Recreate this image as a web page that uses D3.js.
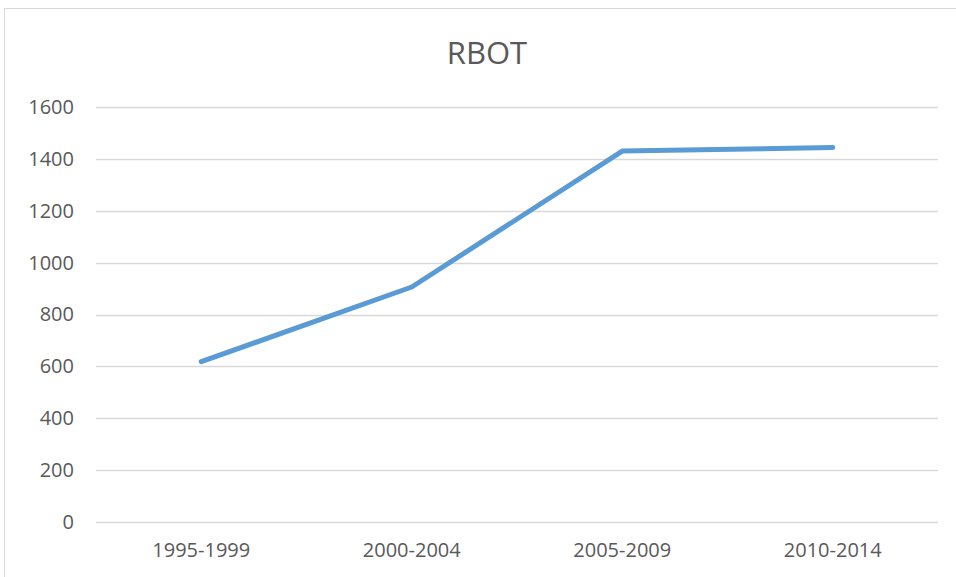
<!DOCTYPE html>
<html>
<head>
<meta charset="utf-8">
<script src="https://cdn.jsdelivr.net/npm/d3@7"></script>
<style>
  body { margin: 0; background: #fff; }
  text { font-family: "Open Sans", "Liberation Sans", sans-serif; fill: #595959; }
</style>
</head>
<body>
<div id="chart"></div>
<script>
const width = 956
const height = 577
const margin = { top: 107, bottom: 55, left: 96, right: 18 }

const periods = ["1995-1999", "2000-2004", "2005-2009", "2010-2014"]
const values = [618, 906, 1430, 1444]
const yTicks = [0, 200, 400, 600, 800, 1000, 1200, 1400, 1600]

const svg = d3.select("#chart").append("svg").attr("width", width).attr("height", height)

// chart border
svg.append("rect")
    .attr("x", 4.5).attr("y", 8.5)
    .attr("width", width + 10).attr("height", height + 10)
    .attr("fill", "none").attr("stroke", "#d9d9d9")

svg.append("text")
    .attr("x", 487).attr("y", 64)
    .attr("text-anchor", "middle")
    .style("font-size", "31px")
    .text("RBOT")

const x = d3.scaleBand().domain(periods).range([margin.left, width - margin.right])
const y = d3.scaleLinear().domain([0, 1600]).range([height - margin.bottom, margin.top])

const grid = svg.append("g").attr("id", "grid")
grid.selectAll("line").data(yTicks).enter().append("line")
    .attr("x1", margin.left).attr("x2", width - margin.right)
    .attr("y1", d => Math.round(y(d)) + 0.5).attr("y2", d => Math.round(y(d)) + 0.5)
    .attr("stroke", "#d9d9d9").attr("stroke-width", 1.5)

const yAxisGroup = svg.append("g").attr("transform", `translate(${margin.left - 22}, 0)`)
yAxisGroup.call(d3.axisLeft(y).tickValues(yTicks).tickSize(0).tickPadding(0).tickFormat(d3.format("d")))
yAxisGroup.select(".domain").remove()
yAxisGroup.selectAll("text").style("font-size", "20px").attr("fill", "#595959")

const xAxisGroup = svg.append("g").attr("transform", `translate(0, ${height - margin.bottom})`)
xAxisGroup.call(d3.axisBottom(x).tickSize(0).tickPadding(21))
xAxisGroup.select(".domain").remove()
xAxisGroup.selectAll("text").style("font-size", "20px").attr("fill", "#595959")

const line = d3.line()
    .x((d, i) => x(periods[i]) + x.bandwidth() / 2)
    .y(d => y(d))

svg.append("path")
    .datum(values)
    .attr("d", line)
    .attr("fill", "none")
    .attr("stroke", "#5b9bd5")
    .attr("stroke-width", 5)
    .attr("stroke-linecap", "round")
    .attr("stroke-linejoin", "round")
</script>
</body>
</html>
